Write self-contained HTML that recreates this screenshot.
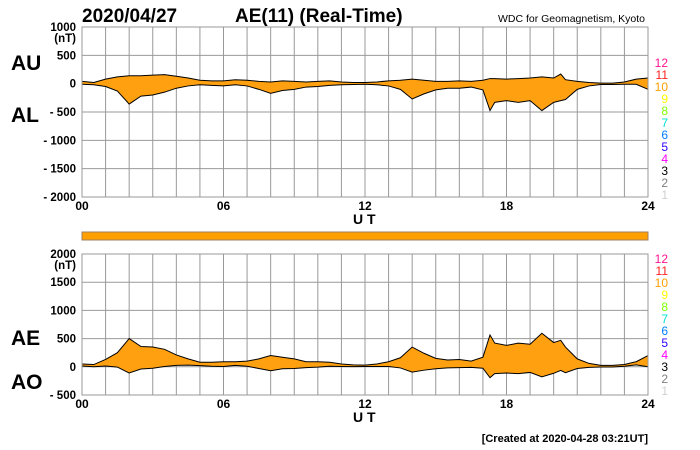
<!DOCTYPE html>
<html><head><meta charset="utf-8"><style>
body{margin:0;background:#fff;}
svg{display:block;font-family:"Liberation Sans",sans-serif;}
</style></head><body>
<svg id="chart" width="700" height="450" viewBox="0 0 700 450">
<text x="82" y="22" font-size="19" font-weight="bold">2020/04/27</text>
<text x="235" y="22" font-size="19" font-weight="bold">AE(11) (Real-Time)</text>
<text x="645" y="22" font-size="10.5" text-anchor="end">WDC for Geomagnetism, Kyoto</text>
<text x="11" y="70" font-size="21" font-weight="bold">AU</text>
<text x="11" y="122" font-size="21" font-weight="bold">AL</text>
<text x="11" y="345" font-size="21" font-weight="bold">AE</text>
<text x="11" y="389" font-size="21" font-weight="bold">AO</text>
<g id="top"></g>
<g id="bot"></g>
<rect x="82" y="232" width="566" height="8" fill="#ffa000" stroke="#a08060" stroke-width="1"/>
<text x="648" y="442" font-size="11" font-weight="bold" text-anchor="end">[Created at 2020-04-28 03:21UT]</text>
</svg>
<script>
const hours = [0,0.5,1,1.5,2,2.5,3,3.5,4,4.5,5,5.5,6,6.5,7,7.5,8,8.5,9,9.5,10,10.5,11,11.5,12,12.5,13,13.5,14,14.5,15,15.5,16,16.5,17,17.3,17.5,18,18.5,19,19.5,20,20.3,20.5,21,21.5,22,22.5,23,23.5,24];
const auValues = [40,20,80,120,140,140,150,160,130,100,60,50,50,70,60,40,30,50,40,30,40,50,30,20,20,30,50,60,80,60,40,40,50,40,60,90,90,80,90,100,120,100,170,70,40,20,10,10,30,80,100];
const alValues = [-10,-20,-50,-130,-360,-220,-200,-150,-80,-40,-20,-30,-40,-20,-40,-100,-170,-120,-100,-60,-50,-30,-20,-15,-10,-20,-40,-100,-270,-180,-110,-80,-80,-60,-110,-475,-330,-300,-330,-300,-475,-330,-300,-280,-100,-40,-15,-15,-10,-10,-100];
const xTickLabels = ["00","06","12","18","24"];
const topTicks = [1000,500,0,-500,-1000,-1500,-2000];
const botTicks = [2000,1500,1000,500,0,-500];
const legendNums = ["12","11","10","9","8","7","6","5","4","3","2","1"];
const legendColors = ["#ff1493","#ff2020","#ffa000","#ffff00","#80ff00","#00e0d0","#0080ff","#3000ff","#ff00ff","#000000","#808080","#d0d0d0"];
const NS="http://www.w3.org/2000/svg";
const X0=82,X1=648;
const xs=h=>X0+(X1-X0)*h/24;
function mk(g,tag,attrs){const e=document.createElementNS(NS,tag);for(const k in attrs)e.setAttribute(k,attrs[k]);g.appendChild(e);return e;}
function panel(gid,top,bottom,vmax,vmin,ticks,upper,lower,legTop){
  const g=document.getElementById(gid);
  const ys=v=>top+(bottom-top)*(vmax-v)/(vmax-vmin);
  for(let h=0;h<=24;h++){const l=mk(g,'line',{x1:xs(h),x2:xs(h),y1:top,y2:bottom,stroke:'#999','stroke-width':1});
    }
  ticks.forEach(t=>{const l=mk(g,'line',{x1:X0,x2:X1,y1:ys(t),y2:ys(t),stroke:'#999','stroke-width':1});
    
    const tx=mk(g,'text',{x:76,y:ys(t)+4,'font-size':11.5,'font-weight':'bold','text-anchor':'end'});
    tx.textContent=t<0?'- '+(-t):String(t);
    });
  const nt=mk(g,'text',{x:76,y:ys(ticks[0])+15,'font-size':11.5,'font-weight':'bold','text-anchor':'end'});nt.textContent='(nT)';
  
  let d='M'+hours.map((h,i)=>xs(h)+','+ys(upper[i])).join('L');
  d+='L'+hours.map((h,i)=>[h,i]).reverse().map(([h,i])=>xs(h)+','+ys(lower[i])).join('L')+'Z';
  const a=mk(g,'path',{d:d,fill:'#ffa010',stroke:'none'});
  
  [upper,lower].forEach((arr,k)=>{const p=mk(g,'polyline',{points:hours.map((h,i)=>xs(h)+','+ys(arr[i])).join(' '),fill:'none',stroke:'#000','stroke-width':1});
    });
  const b=mk(g,'rect',{x:X0,y:top,width:X1-X0,height:bottom-top,fill:'none',stroke:'#999'});
  
  xTickLabels.forEach((s,i)=>{const t=mk(g,'text',{x:xs(i*6),y:bottom+13,'font-size':12,'font-weight':'bold','text-anchor':'middle'});t.textContent=s;
    });
  const u=mk(g,'text',{x:xs(12)-12,y:bottom+27,'font-size':14,'font-weight':'bold'});u.textContent='U T';
  
  legendNums.forEach((n,i)=>{const t=mk(g,'text',{x:668,y:legTop+i*12,'font-size':12,'text-anchor':'end',fill:legendColors[i]});t.textContent=n;
    });
}
const ae=auValues.map((v,i)=>v-alValues[i]);
const ao=auValues.map((v,i)=>(v+alValues[i])/2);
panel('top',27,197,1000,-2000,topTicks,auValues,alValues,67);
panel('bot',254,395,2000,-500,botTicks,ae,ao,263);
</script>
</body></html>
